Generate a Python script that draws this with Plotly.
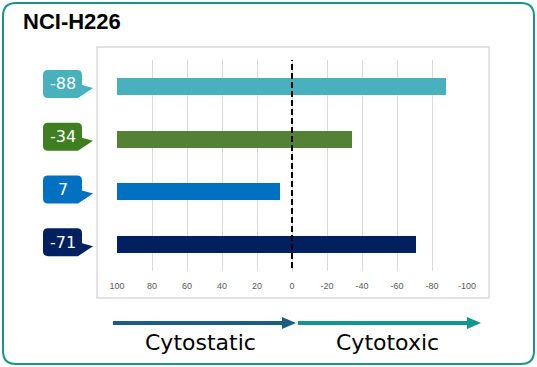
import plotly.graph_objects as go

title = "NCI-H226"
values = [-88, -34, 7, -71]
labels = ["-88", "-34", "7", "-71"]
bar_colors = ["#48b1bd", "#548235", "#0070c0", "#002060"]
callout_colors = ["#48b1bd", "#3f7f22", "#0070c0", "#002060"]
tick_vals = [100, 80, 60, 40, 20, 0, -20, -40, -60, -80, -100]
tick_text = ["100", "80", "60", "40", "20", "0", "-20", "-40", "-60", "-80", "-100"]
base_value = 100
left_label = "Cytostatic"
right_label = "Cytotoxic"

W, H = 537, 367
L, R, T, B = 117, 467, 60, 271


def PX(x):
    return (x - L) / (R - L)


def PY(y):
    return 1 - (y - T) / (B - T)


def rrect(x0, y0, x1, y1, r):
    rx = r / (R - L)
    ry = r / (B - T)
    a0, a1 = PX(x0), PX(x1)
    b0, b1 = PY(y0), PY(y1)  # b0 top (higher), b1 bottom
    return (f"M {a0+rx},{b0} L {a1-rx},{b0} Q {a1},{b0} {a1},{b0-ry} "
            f"L {a1},{b1+ry} Q {a1},{b1} {a1-rx},{b1} L {a0+rx},{b1} "
            f"Q {a0},{b1} {a0},{b1+ry} L {a0},{b0-ry} Q {a0},{b0} {a0+rx},{b0} Z")


ys = list(range(len(values)))
fig = go.Figure()
fig.add_trace(go.Bar(
    y=ys, x=[v - base_value for v in values], base=base_value,
    orientation="h", marker=dict(color=bar_colors, line=dict(width=0)),
    width=0.32, hoverinfo="skip", showlegend=False,
))

shapes = []
# outer rounded border
shapes.append(dict(type="path", xref="paper", yref="paper",
                   path=rrect(3, 3, 534, 364, 13),
                   line=dict(color="#17958d", width=2), fillcolor="rgba(0,0,0,0)", layer="below"))
# inner chart box
shapes.append(dict(type="rect", xref="paper", yref="paper",
                   x0=PX(97), x1=PX(489), y0=PY(47), y1=PY(298),
                   line=dict(color="#d9d9d9", width=1.5), fillcolor="rgba(0,0,0,0)", layer="below"))
# dashed zero line
shapes.append(dict(type="line", xref="x", yref="paper", x0=0, x1=0,
                   y0=PY(268), y1=1, line=dict(color="black", width=2, dash="6px,3px")))

# callouts
for i, c in enumerate(callout_colors):
    r = 5
    x0, x1, yt, yb = -74, -35, 16.5, -11.5
    p = (f"M {x0+r},{yt} L {x1-r},{yt} Q {x1},{yt} {x1},{yt-r} L {x1},{1.5} "
         f"L {-24},{-1.5} L {x1-4},{yb} L {x0+r},{yb} Q {x0},{yb} {x0},{yb+r} "
         f"L {x0},{yt-r} Q {x0},{yt} {x0+r},{yt} Z")
    shapes.append(dict(type="path", xref="paper", yref="y",
                       xsizemode="pixel", ysizemode="pixel",
                       xanchor=0, yanchor=i, path=p,
                       line=dict(width=0), fillcolor=c))

# arrows
def arrow(xs, xe, y, color):
    head = 14
    shapes.append(dict(type="rect", xref="paper", yref="paper",
                       x0=PX(xs), x1=PX(xe - head + 1), y0=PY(y - 2), y1=PY(y + 2),
                       line=dict(width=0), fillcolor=color))
    shapes.append(dict(type="path", xref="paper", yref="paper",
                       path=f"M {PX(xe-head)},{PY(y-6)} L {PX(xe)},{PY(y)} L {PX(xe-head)},{PY(y+6)} Z",
                       line=dict(width=0), fillcolor=color))


arrow(113, 296, 323, "#1b5e82")
arrow(298, 481, 323, "#0e968f")

annotations = [
    dict(text=f"<b>{title}</b>", xref="paper", yref="paper", x=PX(21), y=PY(22),
         xanchor="left", yanchor="middle", showarrow=False,
         font=dict(family="Liberation Sans, Arial", size=22, color="black")),
    dict(text=left_label, xref="paper", yref="paper", x=PX(200), y=PY(342),
         xanchor="center", yanchor="middle", showarrow=False,
         font=dict(family="DejaVu Sans", size=22, color="black")),
    dict(text=right_label, xref="paper", yref="paper", x=PX(387), y=PY(342),
         xanchor="center", yanchor="middle", showarrow=False,
         font=dict(family="DejaVu Sans", size=22, color="black")),
]
for i, t in enumerate(labels):
    annotations.append(dict(text=t, xref="paper", yref="y", x=PX(62.5), y=i, yshift=2.5,
                            xanchor="center", yanchor="middle", showarrow=False,
                            font=dict(family="DejaVu Sans", size=16, color="white")))

fig.update_layout(
    width=W, height=H,
    margin=dict(l=L, r=W - R, t=T, b=H - B, pad=0),
    paper_bgcolor="white", plot_bgcolor="white",
    shapes=shapes, annotations=annotations,
    xaxis=dict(range=[100, -100], tickvals=tick_vals, ticktext=tick_text,
               showgrid=True, gridcolor="#d9d9d9", gridwidth=1, zeroline=False,
               showline=False, ticks="outside", ticklen=6, tickcolor="rgba(0,0,0,0)",
               tickfont=dict(family="Liberation Sans, Arial", size=9, color="#595959"),
               fixedrange=True),
    yaxis=dict(range=[3.5, -0.5], showticklabels=False, showgrid=False,
               zeroline=False, showline=False, fixedrange=True),
    bargap=0,
)

fig.write_html("out.html", config=dict(displayModeBar=False),
               post_script="document.body.style.margin='0';document.body.style.overflow='hidden';")
